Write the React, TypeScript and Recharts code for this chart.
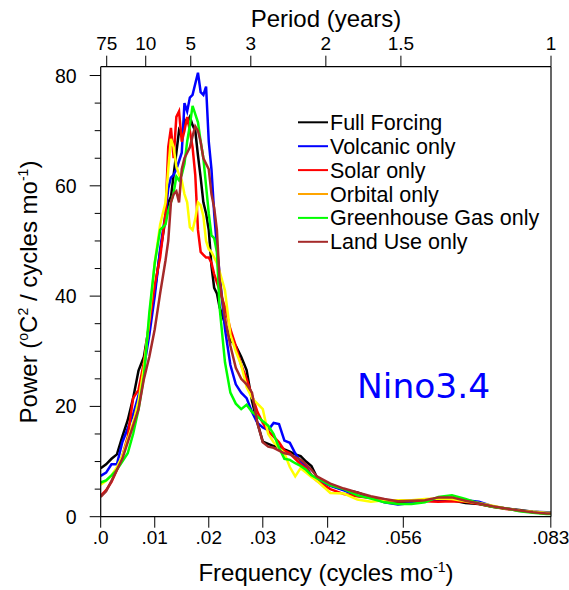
import React from 'react';
import { LineChart, Line, XAxis, YAxis, Legend, Label } from 'recharts';

const FONT = '"Liberation Sans", Arial, Helvetica, sans-serif';

// Frequency (cycles per month)
const freq = [
  0, 0.001, 0.002, 0.003, 0.004, 0.005, 0.006, 0.007, 0.008, 0.009, 0.01, 0.011,
  0.012, 0.0125, 0.013, 0.0135, 0.014, 0.0145, 0.015, 0.0155, 0.016, 0.0165, 0.017,
  0.0175, 0.018, 0.0185, 0.019, 0.0195, 0.02, 0.0205, 0.021, 0.0215, 0.022,
  0.023, 0.024, 0.025, 0.026, 0.027, 0.028, 0.029, 0.03, 0.031, 0.032, 0.033, 0.034,
  0.035, 0.036, 0.037, 0.038, 0.039, 0.04,
  0.0425, 0.045, 0.0475, 0.05, 0.0525, 0.055, 0.0575, 0.06, 0.0625, 0.065, 0.0675,
  0.07, 0.0725, 0.075, 0.0775, 0.08, 0.0825, 0.0833,
];

const fullForcing = [
  8.8, 9.5, 10.5, 11.3, 14.5, 17.5, 21.5, 26.5, 29, 35, 41, 48,
  54, 57, 58, 62, 66, 70, 69, 72, 71.5, 72.5, 71, 70, 65.5, 61.5, 57, 55, 52, 45.5, 41.5, 40.5, 38,
  35, 32, 31, 29, 26.6, 21, 17, 13.6, 13.2, 12.8, 12.7, 12.2, 11.8, 11.3, 11, 10, 9.2, 7.2,
  5.7, 4.9, 4.4, 3.5, 3.0, 2.7, 2.6, 2.9, 3.1, 3.0, 2.5, 2.3, 1.8, 1.5, 1.2, 0.9, 0.7, 0.7,
];

const volcanic = [
  7.4, 8, 9.5, 9.5, 13.5, 16, 18.5, 22, 27, 33, 40, 48.5,
  55, 59.5, 61.5, 62, 63, 64.5, 66, 75, 73.5, 76, 76.5, 78.5, 80.5, 77, 76.5, 78, 68, 63, 55, 49, 44,
  34, 27.5, 24, 22.5, 21.5, 19, 17, 16.2, 15.7, 17, 16.8, 13.8, 13.4, 11.5, 10, 9.1, 7.5, 6.7,
  5.6, 4.8, 3.8, 3.5, 2.6, 2.2, 2.5, 2.9, 3.2, 3.1, 3.0, 2.7, 1.9, 1.5, 1.1, 0.9, 0.8, 0.8,
];

const solar = [
  3.8, 4.8, 6.3, 8.5, 11, 14.5, 21.5, 23, 28, 35, 42, 47,
  55, 67, 70.5, 65, 72.5, 73.5, 68, 70, 72.5, 70, 67, 62, 52, 48, 47.5, 47, 47, 46, 44, 42.5, 41,
  38, 34, 31, 27.5, 25, 22, 19, 17, 15.5, 14.5, 13.5, 12, 11.5, 10.5, 9.5, 8.8, 7.5, 6.5,
  5.0, 4.1, 3.7, 3.4, 3.0, 2.8, 2.9, 2.8, 2.7, 2.8, 2.7, 2.3, 1.8, 1.4, 1.1, 0.8, 0.6, 0.6,
];

const orbital = [
  5.8, 6.5, 7.5, 9, 11, 14, 17, 21, 27, 36, 46, 53,
  57, 63, 68.5, 67, 63.5, 62, 61, 58.5, 57, 52.5, 52, 54, 57, 56.5, 54.5, 50, 48.5, 48, 47, 46, 44.5,
  41, 33, 30, 27.5, 23.5, 21.5, 20.5, 19.5, 15, 13.5, 12.5, 11.5, 9, 7.3, 8.8, 8, 7.2, 6.5,
  4.3, 4.2, 3.1, 2.7, 3.0, 3.0, 3.0, 3.2, 3.3, 3.2, 2.8, 2.5, 2.0, 1.5, 1.1, 0.9, 0.7, 0.7,
];

const greenhouse = [
  6.2, 6.6, 7.5, 8.5, 10, 11.5, 15, 19.5, 25.5, 37, 46, 52,
  53, 55.5, 57, 58.7, 61.7, 61, 62, 64, 68, 71, 74.5, 73, 71.5, 68, 65, 60, 55, 51, 50.5, 48, 38,
  28, 22.5, 20.5, 19.5, 20.3, 19, 18.2, 17.3, 16.5, 15, 12.5, 10.5, 10.3, 9.7, 9.2, 8.5, 7.5, 7,
  5.7, 5.0, 3.9, 3.3, 2.6, 2.3, 2.3, 2.6, 3.6, 3.9, 3.2, 2.4, 1.8, 1.5, 1.0, 0.7, 0.5, 0.5,
];

const landUse = [
  3.6, 4.6, 6.5, 8.5, 10.5, 13.5, 16.5, 19.5, 25, 29, 34, 40.5,
  46.5, 50, 57, 58.5, 59, 57, 63, 65, 66, 67, 69, 70.8, 70, 68, 65, 64, 63, 58.5, 56, 52, 43,
  36, 31, 27, 25, 24, 22.5, 17, 13.5, 12.7, 12.5, 12, 11.5, 11.3, 10.8, 10.3, 9.5, 8.5, 7.3,
  6.0, 5.1, 4.4, 3.7, 3.2, 2.8, 2.9, 3.0, 3.5, 3.5, 2.9, 2.4, 1.9, 1.5, 1.1, 0.8, 0.6, 0.6,
];

const seriesKeys = ['full', 'volcanic', 'solar', 'orbital', 'ghg', 'land'];
const seriesNames = ['Full Forcing', 'Volcanic only', 'Solar only', 'Orbital only', 'Greenhouse Gas only', 'Land Use only'];
const seriesValues = [fullForcing, volcanic, solar, orbital, greenhouse, landUse];
const lineColors = ['#000000', '#0000ff', '#ff0000', '#ffff00', '#00ff00', '#a52a2a'];
const legendColors = ['#000000', '#0000ff', '#ff0000', '#ffa500', '#00ff00', '#a52a2a'];

const freqTicks = [0, 0.01, 0.02, 0.03, 0.042, 0.056, 0.0833];
const freqTickLabels = ['.0', '.01', '.02', '.03', '.042', '.056', '.083'];
const periodYears = [75, 10, 5, 3, 2, 1.5, 1];
const periodTickLabels = ['75', '10', '5', '3', '2', '1.5', '1'];
const powerTicks = [0, 5, 10, 15, 20, 25, 30, 35, 40, 45, 50, 55, 60, 65, 70, 75, 80];
const powerLabelStep = 20;

const data = freq.map((f, i) => {
  const row: Record<string, number> = { f };
  seriesKeys.forEach((k, s) => {
    row[k] = seriesValues[s][i];
  });
  return row;
});

const PowerTick = (props: any) => {
  const { x, y, payload } = props;
  const major = payload.value % powerLabelStep === 0;
  return (
    <g>
      <line x1={x - (major ? 11 : 6)} x2={x} y1={y} y2={y} stroke="#000" strokeWidth={1} />
      {major && (
        <text x={x - 24} y={y} dy="0.36em" textAnchor="end" fontSize={19.5} fontFamily={FONT} fill="#000">
          {payload.value}
        </text>
      )}
    </g>
  );
};

const renderLegend = () => (
  <svg width={270} height={150} style={{ display: 'block' }}>
    {seriesNames.map((name, i) => {
      const ly = 17.3 + i * 23.9;
      return (
        <g key={name}>
          <line x1={8} x2={38} y1={ly} y2={ly} stroke={legendColors[i]} strokeWidth={2} />
          <text x={40} y={ly + 7.5} fontSize={21.5} fontFamily={FONT} fill="#000">
            {name}
          </text>
        </g>
      );
    })}
  </svg>
);

export default function App() {
  return (
    <div style={{ position: 'absolute', left: 0, top: 0, width: 569, height: 590, background: '#fff' }}>
      <LineChart
        width={569}
        height={590}
        data={data}
        margin={{ top: 26.7, right: 8, bottom: 33.3, left: 40.7 }}
      >
        <XAxis
          dataKey="f"
          type="number"
          domain={[0, 1 / 12]}
          ticks={freqTicks}
          interval={0}
          tickFormatter={(v: number, i: number) => freqTickLabels[i]}
          height={40}
          tickSize={11}
          tickMargin={3}
          axisLine={{ stroke: '#000', strokeWidth: 1.2 }}
          tickLine={{ stroke: '#000', strokeWidth: 1 }}
          tick={{ fill: '#000', fontSize: 19, fontFamily: FONT }}
          allowDataOverflow
        >
          <Label
            content={() => (
              <text x={326} y={581} textAnchor="middle" fontSize={24} fontFamily={FONT} fill="#000">
                Frequency (cycles mo
                <tspan dy={-9} fontSize={14}>-1</tspan>
                <tspan dy={9} fontSize={24}>)</tspan>
              </text>
            )}
          />
        </XAxis>
        <XAxis
          xAxisId="top"
          orientation="top"
          dataKey="f"
          type="number"
          domain={[0, 1 / 12]}
          ticks={periodYears.map((p) => 1 / (12 * p))}
          interval={0}
          tickFormatter={(v: number, i: number) => periodTickLabels[i]}
          height={40}
          tickSize={11}
          tickMargin={6}
          axisLine={{ stroke: '#000', strokeWidth: 1.2 }}
          tickLine={{ stroke: '#000', strokeWidth: 1 }}
          tick={{ fill: '#000', fontSize: 19, fontFamily: FONT }}
          allowDataOverflow
        >
          <Label
            content={() => (
              <text x={326} y={27} textAnchor="middle" fontSize={24} fontFamily={FONT} fill="#000">
                Period (years)
              </text>
            )}
          />
        </XAxis>
        <YAxis
          type="number"
          domain={[0, 81.6]}
          ticks={powerTicks}
          interval={0}
          width={60}
          tickSize={0}
          tickMargin={0}
          tickLine={false}
          axisLine={{ stroke: '#000', strokeWidth: 1.2 }}
          tick={<PowerTick />}
          allowDataOverflow
        >
          <Label
            content={() => (
              <text
                transform="rotate(-90)"
                x={-292}
                y={37}
                textAnchor="middle"
                fontSize={24}
                fontFamily={FONT}
                fill="#000"
              >
                Power (
                <tspan dy={-9} fontSize={14}>o</tspan>
                <tspan dy={9} fontSize={24}>C</tspan>
                <tspan dy={-9} fontSize={14}>2</tspan>
                <tspan dy={9} fontSize={24}>{' / cycles mo'}</tspan>
                <tspan dy={-9} fontSize={14}>-1</tspan>
                <tspan dy={9} fontSize={24}>)</tspan>
              </text>
            )}
          />
        </YAxis>
        <YAxis
          yAxisId="right"
          orientation="right"
          type="number"
          domain={[0, 81.6]}
          width={10}
          tick={false}
          tickLine={false}
          axisLine={{ stroke: '#000', strokeWidth: 1.2 }}
        >
          <Label
            content={() => (
              <text x={357} y={397.5} fontSize={34.5} fontFamily='"DejaVu Sans", sans-serif' fill="#0000ff">
                Nino3.4
              </text>
            )}
          />
        </YAxis>
        <Legend
          layout="vertical"
          align="center"
          verticalAlign="middle"
          content={renderLegend}
          wrapperStyle={{ left: 290, top: 105, width: 270, height: 150 }}
        />
        {seriesKeys.map((k, i) => (
          <Line
            key={k}
            dataKey={k}
            name={seriesNames[i]}
            type="linear"
            stroke={lineColors[i]}
            strokeWidth={2.5}
            dot={false}
            activeDot={false}
            isAnimationActive={false}
          />
        ))}
      </LineChart>
    </div>
  );
}
